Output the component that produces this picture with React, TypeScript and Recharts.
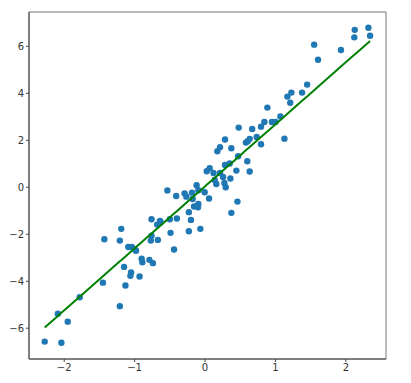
import React from 'react';
import { ScatterChart, Scatter, XAxis, YAxis, ReferenceArea } from 'recharts';

const xs = [
  -2.277, -2.04, -2.09, -1.95, -1.78, -1.45, -1.43, -1.21, -1.19, -1.21,
  -1.15, -1.13, -1.09, -1.04, -1.05, -1.06, -0.99, -0.98, -0.93, -0.9,
  -0.89, -0.79, -0.74, -0.76, -0.77, -0.76, -0.67, -0.68, -0.64, -0.63,
  -0.535, -0.5, -0.49, -0.44, -0.41, -0.4, -0.29, -0.265, -0.23, -0.23,
  -0.2, -0.185, -0.175, -0.156, -0.12, -0.095, -0.095, -0.1, -0.066, -0.005,
  0.057, 0.024, 0.066, 0.12, 0.137, 0.16, 0.175, 0.213, 0.213, 0.256,
  0.275, 0.294, 0.284, 0.284, 0.35, 0.36, 0.374, 0.374, 0.445, 0.46,
  0.47, 0.478, 0.58, 0.6, 0.606, 0.634, 0.634, 0.67, 0.734, 0.795,
  0.795, 0.843, 0.885, 0.95, 1.0, 1.07, 1.127, 1.17, 1.21, 1.226,
  1.378, 1.45, 1.55, 1.605, 1.93, 2.12, 2.126, 2.32, 2.344,
];
const ys = [
  -6.57, -6.62, -5.38, -5.72, -4.68, -4.06, -2.21, -5.06, -1.77, -2.27,
  -3.39, -4.18, -2.54, -2.54, -3.63, -3.77, -2.67, -2.7, -3.8, -3.04,
  -3.19, -3.09, -3.23, -1.36, -2.27, -2.06, -2.24, -1.59, -1.43, -1.49,
  -0.14, -1.36, -1.94, -2.65, -0.37, -1.33, -0.26, -0.4, -1.06, -1.87,
  -1.39, -0.23, -0.5, -0.82, 0.09, -0.13, -0.71, -0.85, -1.77, -0.21,
  -0.48, 0.68, 0.81, 0.61, 0.31, 0.14, 1.53, 1.7, 0.61, 0.44,
  0.18, 0.0, 2.03, 0.95, 1.01, 0.37, 1.66, -1.09, 0.71, -0.61,
  1.32, 2.54, 1.9, 1.11, 1.96, 2.06, 0.67, 2.48, 2.14, 2.58,
  1.83, 2.78, 3.39, 2.78, 2.78, 3.01, 2.07, 3.86, 3.6, 4.03,
  4.03, 4.37, 6.07, 5.43, 5.84, 6.38, 6.7, 6.79, 6.45,
];

// fitted line
const slope = 2.64;
const intercept = 0.04;

const xTicks = [-2, -1, 0, 1, 2];
const yTicks = [-6, -4, -2, 0, 2, 4, 6];
const xDomain = [-2.5, 2.57];
const yDomain = [-7.31, 7.46];

const points = xs.map((x, i) => ({ x, y: ys[i] }));
const fitLine = [...xs].sort((a, b) => a - b).map(x => ({ x, y: slope * x + intercept }));

const fmt = (v: number) => String(v).replace('-', '\u2212');

const Dot = (props: any) => <circle cx={props.cx} cy={props.cy} r={3.2} fill="#1f77b4" />;

const tickStyle = { fontSize: 10, fill: '#333', fontFamily: 'DejaVu Sans' };

export default function App() {
  return (
    <div style={{ position: 'absolute', left: 0, top: 0 }}>
      <ScatterChart width={411} height={383} margin={{ top: 12, right: 25, bottom: 0, left: 0 }}>
        <XAxis
          type="number"
          dataKey="x"
          domain={xDomain}
          ticks={xTicks}
          tickFormatter={fmt}
          allowDataOverflow
          height={24}
          stroke="#444"
          tick={tickStyle}
          tickSize={3}
        />
        <YAxis
          type="number"
          dataKey="y"
          domain={yDomain}
          ticks={yTicks}
          tickFormatter={fmt}
          allowDataOverflow
          width={29}
          stroke="#444"
          tick={tickStyle}
          tickSize={3}
        />
        <ReferenceArea
          x1={xDomain[0]}
          x2={xDomain[1]}
          y1={yDomain[0]}
          y2={yDomain[1]}
          fill="none"
          stroke="#777"
          strokeWidth={1}
          ifOverflow="visible"
        />
        <Scatter data={points} shape={<Dot />} isAnimationActive={false} />
        <Scatter
          data={fitLine}
          line={{ stroke: '#008000', strokeWidth: 2 }}
          shape={() => null}
          isAnimationActive={false}
        />
      </ScatterChart>
    </div>
  );
}
